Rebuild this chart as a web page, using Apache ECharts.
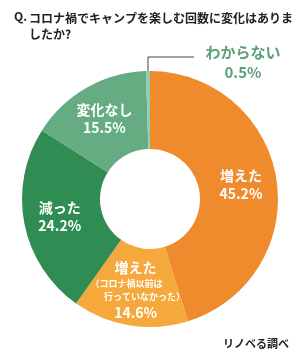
<!DOCTYPE html>
<html lang="ja" style="height: 100%">
<head>
  <meta charset="utf-8">
</head>
<body style="height: 100%; margin: 0; background: #fff">
  <div id="container" style="width:300px;height:359px"></div>

  <script type="text/javascript" src="https://cdn.jsdelivr.net/npm/echarts@6/dist/echarts.min.js"></script>
  <script type="text/javascript">
    // data
    var names = ['増えた', '増えた（コロナ禍以前は行っていなかった）', '減った', '変化なし', 'わからない'];
    var values = [45.2, 14.6, 24.2, 15.5, 0.5];
    var colors = ['#EF8B2C', '#F5A83B', '#2F8C52', '#66AC82', '#93CDAE'];

    var font = '"Noto Sans CJK JP", sans-serif';

    var dom = document.getElementById('container');
    var myChart = echarts.init(dom, null, { renderer: 'canvas' });

    var pieData = names.map(function (n, i) {
      var item = { name: n, value: values[i], itemStyle: { color: colors[i] } };
      if (i === 1) {
        item.label = {
          formatter: '{a|増えた}\n{s|（コロナ禍以前は　　}\n{s|　　行っていなかった）}\n{a|' + values[i] + '%}'
        };
      }
      if (i === 4) {
        item.label = {
          position: 'outside',
          color: '#5B9F74',
          fontSize: 15,
          fontWeight: 'bold',
          lineHeight: 20,
          formatter: '{b}\n{c}%'
        };
        item.labelLine = { show: true, lineStyle: { color: '#444', width: 1 } };
      }
      return item;
    });

    var option = {
      textStyle: { fontFamily: font },
      title: [
        {
          text: 'Q.',
          left: 9, top: 5,
          textStyle: { fontSize: 12, fontWeight: 'bold', color: '#222', fontFamily: font }
        },
        {
          text: 'コロナ禍でキャンプを楽しむ回数に変化はありま\nしたか?',
          left: 24, top: 5,
          textStyle: { fontSize: 12, fontWeight: 'bold', color: '#222', lineHeight: 16, fontFamily: font }
        },
        {
          text: 'リノベる調べ',
          right: 6, bottom: 5,
          textStyle: { fontSize: 11, fontWeight: 'bold', color: '#222', fontFamily: font }
        }
      ],
      series: [{
        type: 'pie',
        center: [150, 199],
        radius: [50, 128],
        startAngle: 90,
        clockwise: true,
        silent: true,
        label: {
          show: true,
          position: 'inside',
          color: '#fff',
          fontSize: 14,
          fontWeight: 'bold',
          lineHeight: 18,
          fontFamily: font,
          formatter: function (p) { return p.name + '\n' + p.value + '%'; },
          rich: {
            a: { fontSize: 14, fontWeight: 'bold', color: '#fff', lineHeight: 19, fontFamily: font },
            s: { fontSize: 9, fontWeight: 'bold', color: '#fff', lineHeight: 13, fontFamily: font }
          }
        },
        labelLine: { show: false },
        labelLayout: function (p) {
          if (p.dataIndex !== 4) return {};
          var r = p.rect;
          var x0 = r.x + r.width / 2;
          var y0 = r.y;
          return {
            x: x0 + 95,
            y: y0 - 9,
            align: 'center',
            verticalAlign: 'middle',
            labelLinePoints: [[x0, y0 + 28], [x0, y0 - 14], [x0 + 46, y0 - 14]]
          };
        },
        data: pieData
      }]
    };

    myChart.setOption(option);
    window.addEventListener('resize', myChart.resize);
  </script>
</body>
</html>
